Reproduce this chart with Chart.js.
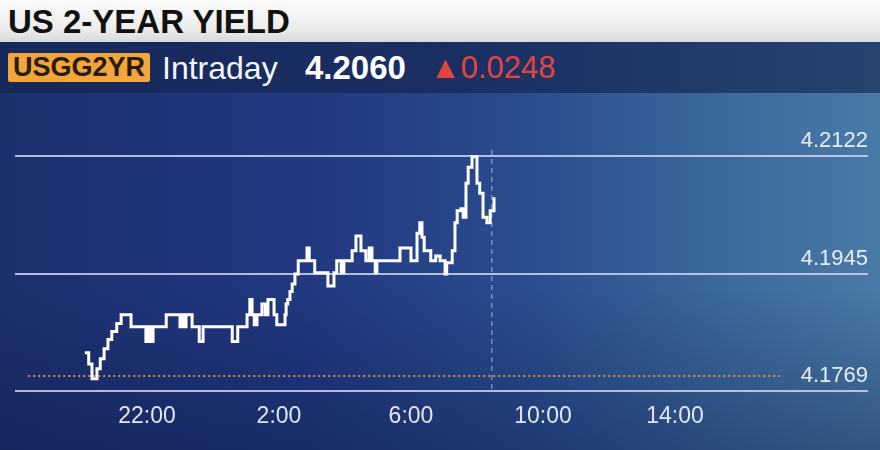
<!DOCTYPE html>
<html>
<head>
<meta charset="utf-8">
<title>US 2-Year Yield</title>
<script src="https://cdn.jsdelivr.net/npm/chart.js@4.4.1/dist/chart.umd.min.js"></script>
<style>
  html, body { margin: 0; padding: 0; }
  body {
    width: 880px; height: 450px; overflow: hidden; position: relative;
    font-family: "Liberation Sans", Arial, sans-serif;
  }
  #top {
    position: absolute; left: 0; top: 0; width: 880px; height: 42px;
    background: linear-gradient(180deg, #fbfbfb 0%, #ececec 70%, #d9d9d9 100%);
  }
  #top h1 {
    margin: 0; position: absolute; left: 8px; top: 3px;
    font-size: 33px; font-weight: bold; color: #111; letter-spacing: 0px;
  }
  #bar {
    position: absolute; left: 0; top: 42px; width: 880px; height: 51px;
    background: linear-gradient(90deg, #17285b 0%, #1b2f63 55%, #27446f 100%);
    color: #fff; font-size: 32px;
  }
  #bar span { position: absolute; top: 8px; line-height: 36px; white-space: nowrap; }
  #sym {
    left: 8px; top: 11px !important; height: 29px; line-height: 29px !important;
    width: 142px; background: #f2a53a; color: #2a1a08; font-weight: bold;
    font-size: 27px; text-align: center; border-radius: 2px;
  }
  #intra { left: 162px; color: #f4f6fb; }
  #last { left: 305px; font-weight: bold; color: #fff; font-size: 33px; }
  #chg { left: 430px; color: #e2453f; font-size: 31px; }
  #plot {
    position: absolute; left: 0; top: 93px; width: 880px; height: 357px;
    background:
      linear-gradient(180deg, rgba(10,20,60,0) 55%, rgba(10,20,60,0.35) 100%),
      linear-gradient(90deg, #1d2f6e 0%, #213881 35%, #2a4d8e 60%, #3b699d 82%, #4a7aa6 100%);
  }
  canvas { position: absolute; left: 0; top: 0; }
</style>
</head>
<body>
<div id="top"><h1>US 2-YEAR YIELD</h1></div>
<div id="bar">
  <span id="sym">USGG2YR</span>
  <span id="intra">Intraday</span>
  <span id="last">4.2060</span>
  <span id="chg">&#9650;0.0248</span>
</div>
<div id="plot"></div>
<canvas id="chart" width="880" height="450"></canvas>
<script>
// intraday prints (clock time, yield) – each entry is where the price stepped to a new level
const times = ['20:07','20:14','20:20','20:29','20:35','20:42','20:49','20:56','21:05','21:13',
  '21:31','21:58','22:02','22:07','22:11','22:35','23:00','23:04','23:07','23:11',
  '23:22','23:35','23:42','0:35','0:45','1:02','1:07','1:11','1:15','1:20',
  '1:29','1:35','1:40','1:51','1:56','2:11','2:13','2:16','2:20','2:24',
  '2:29','2:35','2:51','2:55','3:05','3:29','3:40','3:45','3:53','3:58',
  '4:13','4:20','4:29','4:38','4:44','4:49','4:55','4:58','5:40','6:00',
  '6:11','6:16','6:20','6:24','6:36','6:45','6:53','7:02','7:05','7:15',
  '7:20','7:24','7:31','7:35','7:40','7:44','7:51','8:00','8:05','8:11',
  '8:18','8:24','8:31'];
const yields = [4.1827,4.1810,4.1788,4.1803,4.1818,4.1833,4.1847,4.1859,4.1871,4.1884,
  4.1866,4.1844,4.1866,4.1844,4.1866,4.1884,4.1866,4.1884,4.1866,4.1884,
  4.1866,4.1844,4.1866,4.1844,4.1866,4.1884,4.1907,4.1884,4.1869,4.1884,
  4.1900,4.1884,4.1907,4.1884,4.1869,4.1884,4.1900,4.1907,4.1919,4.1930,
  4.1945,4.1965,4.1984,4.1965,4.1947,4.1927,4.1947,4.1965,4.1947,4.1965,
  4.1980,4.2002,4.1980,4.1965,4.1984,4.1965,4.1947,4.1965,4.1984,4.1965,
  4.2006,4.2022,4.2000,4.1980,4.1965,4.1972,4.1965,4.1945,4.1962,4.1980,
  4.2022,4.2040,4.2043,4.2030,4.2081,4.2105,4.2121,4.2081,4.2066,4.2030,
  4.2022,4.2040,4.2060];

const yTicks = [4.1769, 4.1945, 4.2122];
const xTickTimes = ['22:00','2:00','6:00','10:00','14:00'];
const prevClose = 4.1792;
const prevCloseSpan = ['18:24','17:16'];
const nowTime = '8:27';

// hours elapsed since 18:00 (session start)
function toHours(t) {
  const [h, m] = t.split(':').map(Number);
  return ((h - 18 + 24) % 24) + m / 60;
}

const xTicks = xTickTimes.map(toHours);

const nowLine = {
  id: 'nowLine',
  beforeDatasetsDraw(chart) {
    const {ctx, chartArea, scales} = chart;
    const x = scales.x.getPixelForValue(toHours(nowTime));
    ctx.save();
    ctx.strokeStyle = 'rgba(200,212,238,0.75)';
    ctx.lineWidth = 1;
    ctx.setLineDash([5, 4]);
    ctx.beginPath();
    ctx.moveTo(x, scales.y.getPixelForValue(yTicks[2]) - 6);
    ctx.lineTo(x, chartArea.bottom);
    ctx.stroke();
    ctx.restore();
  }
};

new Chart(document.getElementById('chart'), {
  type: 'line',
  data: {
    datasets: [{
      data: times.map((t, i) => ({x: toHours(t), y: yields[i]})),
      borderColor: '#ffffff',
      borderWidth: 3,
      stepped: true,
      pointRadius: 0
    }, {
      data: prevCloseSpan.map(t => ({x: toHours(t), y: prevClose})),
      borderColor: '#d08b4c',
      borderWidth: 2,
      borderDash: [2, 3],
      pointRadius: 0
    }]
  },
  options: {
    responsive: false,
    animation: false,
    layout: { padding: { left: 15, right: 12, top: 100, bottom: 9 } },
    plugins: { legend: { display: false }, tooltip: { enabled: false } },
    scales: {
      x: {
        type: 'linear',
        min: 0,
        max: 25.85,
        grid: { display: false, drawTicks: false },
        border: { display: false },
        afterBuildTicks: s => { s.ticks = xTicks.map(v => ({value: v})); },
        ticks: {
          padding: 11,
          color: '#e2e8f2',
          font: { family: 'Liberation Sans', size: 23 },
          callback: (v, i) => xTickTimes[i]
        }
      },
      y: {
        position: 'right',
        min: 4.1769,
        max: 4.2206,
        grid: { color: 'rgba(205,212,238,0.85)', lineWidth: 2, drawTicks: false },
        border: { display: false },
        afterBuildTicks: s => { s.ticks = yTicks.map(v => ({value: v})); },
        ticks: {
          mirror: true,
          padding: 0,
          labelOffset: -15,
          color: '#e8eef6',
          font: { family: 'Liberation Sans', size: 22 },
          callback: v => v.toFixed(4)
        }
      }
    }
  },
  plugins: [nowLine]
});
</script>
</body>
</html>
